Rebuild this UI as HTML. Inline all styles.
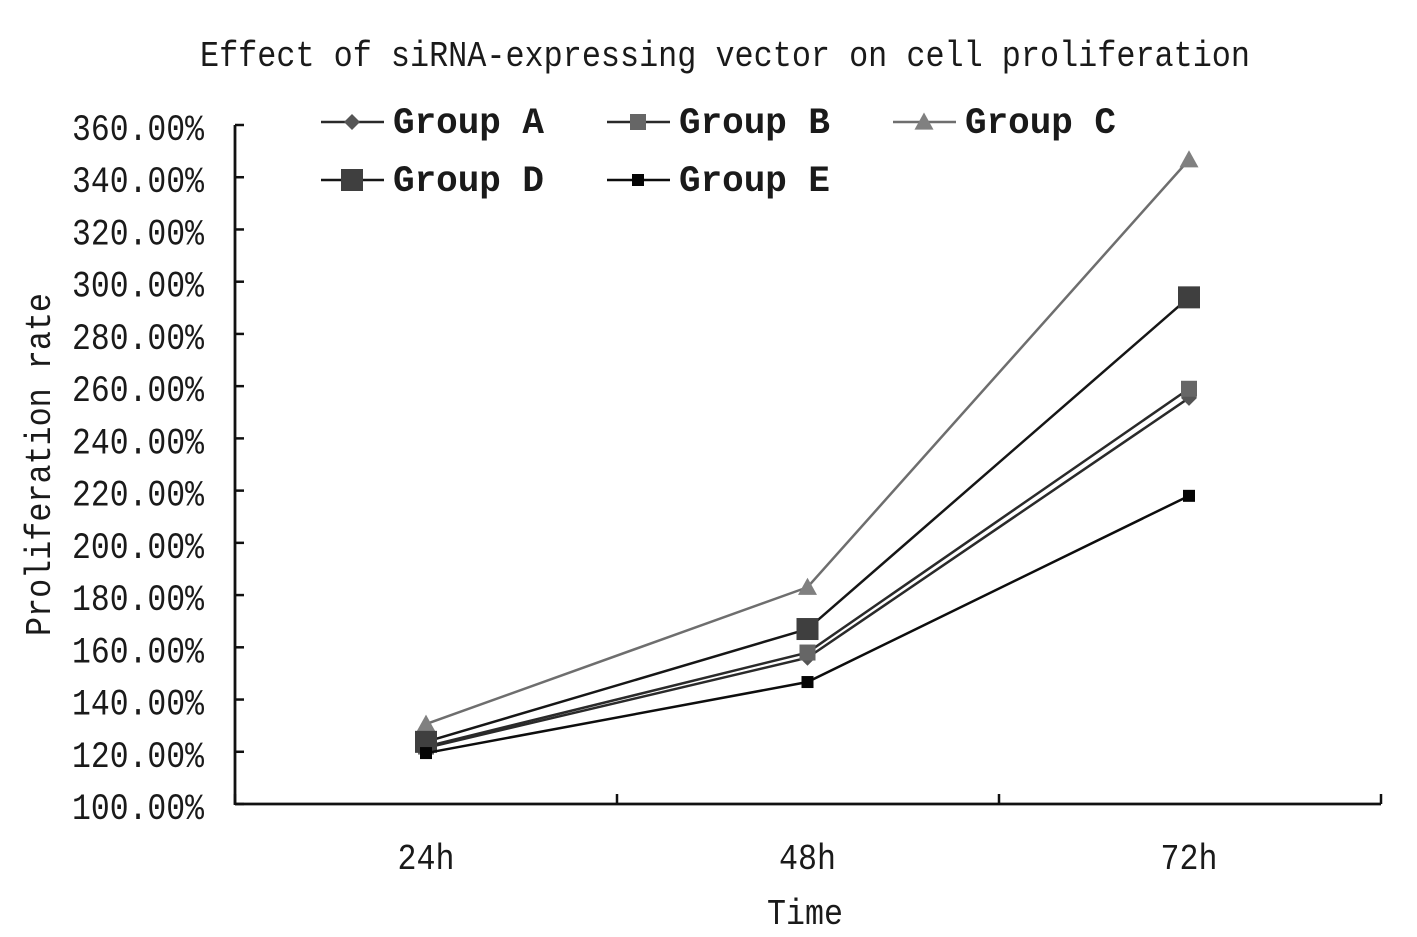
<!DOCTYPE html>
<html>
<head>
<meta charset="utf-8">
<title>Effect of siRNA-expressing vector on cell proliferation</title>
<style>
html,body{margin:0;padding:0;background:#fff;width:1417px;height:937px;overflow:hidden}
svg{display:block}
text{font-family:"Liberation Mono","DejaVu Sans Mono",monospace;fill:#1a1a1a}
</style>
</head>
<body>
<svg id="chart" xmlns="http://www.w3.org/2000/svg" width="1417" height="937" viewBox="0 0 1417 937">
<rect width="1417" height="937" fill="#fff"/>
<text x="200" y="66" font-size="36" textLength="1050" lengthAdjust="spacingAndGlyphs">Effect of siRNA-expressing vector on cell proliferation</text>
<text transform="translate(50,636) rotate(-90)" font-size="36" textLength="343" lengthAdjust="spacingAndGlyphs">Proliferation rate</text>
<text x="767" y="924" font-size="36" textLength="76" lengthAdjust="spacingAndGlyphs">Time</text>
<g id="axes"></g>
<g id="series"></g>
<g id="legend"></g>
</svg>
<script>
const categories = ['24h', '48h', '72h'];
const yTicks = [100, 120, 140, 160, 180, 200, 220, 240, 260, 280, 300, 320, 340, 360];
const groupNames = ['Group A', 'Group B', 'Group C', 'Group D', 'Group E'];
const groupA = [121.5, 156, 255.5];
const groupB = [122, 158, 259];
const groupC = [130.6, 183, 346.7];
const groupD = [123.8, 167, 294];
const groupE = [119.5, 146.7, 218];

const NS = 'http://www.w3.org/2000/svg';
const plotL = 235, plotR = 1381, plotT = 125, plotB = 804;
const yMin = 100, yMax = 360;
function yScale(v) { return plotB - (v - yMin) / (yMax - yMin) * (plotB - plotT); }
function xScale(i) { return 426 + i * 381.5; }
function make(parent, tag, attrs) {
  const el = document.createElementNS(NS, tag);
  for (const k in attrs) el.setAttribute(k, attrs[k]);
  parent.appendChild(el);
  return el;
}
function drawMarker(parent, kind, x, y, size, fill) {
  let el;
  if (kind === 'diamond') {
    el = make(parent, 'polygon', { points: [x, y - size, x + size, y, x, y + size, x - size, y].join(' '), fill: fill });
  } else if (kind === 'triangle') {
    el = make(parent, 'polygon', { points: [x, y - size, x + size, y + size * 0.8, x - size, y + size * 0.8].join(' '), fill: fill });
  } else {
    el = make(parent, 'rect', { x: x - size, y: y - size, width: size * 2, height: size * 2, fill: fill });
  }
  return el;
}

const axes = document.getElementById('axes');
const axisY = make(axes, 'line', { x1: plotL, y1: plotT, x2: plotL, y2: plotB + 1, stroke: '#111', 'stroke-width': 2.8 });


const axisX = make(axes, 'line', { x1: plotL, y1: plotB, x2: plotR, y2: plotB, stroke: '#111', 'stroke-width': 2.8 });



yTicks.forEach(function (t) {
  const y = yScale(t);
  const tick = make(axes, 'line', { x1: plotL, y1: y, x2: plotL + 9, y2: y, stroke: '#111', 'stroke-width': 2.5 });
  
  
  const label = make(axes, 'text', { x: 72, y: y + 15, 'font-size': 37, textLength: 132, lengthAdjust: 'spacingAndGlyphs' });
  label.textContent = t.toFixed(2) + '%';
  
  
});

for (let i = 0; i <= categories.length; i++) {
  const x = plotL + i * (plotR - plotL) / categories.length;
  const tick = make(axes, 'line', { x1: x, y1: plotB, x2: x, y2: plotB - 10, stroke: '#111', 'stroke-width': 2.5 });
  
  
}
categories.forEach(function (c, i) {
  const label = make(axes, 'text', { x: xScale(i) - 28.5, y: 869, 'font-size': 36, textLength: 57, lengthAdjust: 'spacingAndGlyphs' });
  label.textContent = c;
  
  
});

const seriesValues = [groupA, groupB, groupC, groupD, groupE];
const seriesLine = ['#2a2a2a', '#2a2a2a', '#6e6e6e', '#161616', '#0d0d0d'];
const seriesFill = ['#555555', '#666666', '#808080', '#3f3f3f', '#050505'];
const seriesKind = ['diamond', 'square', 'triangle', 'square', 'square'];
const seriesSize = [8, 8, 9.5, 11, 6];
const drawOrder = [0, 1, 2, 3, 4];
const layer = document.getElementById('series');
drawOrder.forEach(function (s) {
  const g = make(layer, 'g', {});
  
  
  const pts = seriesValues[s].map(function (v, i) { return xScale(i) + ',' + yScale(v); }).join(' ');
  const line = make(g, 'polyline', { points: pts, fill: 'none', stroke: seriesLine[s], 'stroke-width': 2.5 });
  
  
  seriesValues[s].forEach(function (v, i) {
    const m = drawMarker(g, seriesKind[s], xScale(i), yScale(v), seriesSize[s], seriesFill[s]);
    
    
  });
});

const legend = document.getElementById('legend');
const legendX = [321, 607, 893];
const legendY = [122, 180];
groupNames.forEach(function (name, s) {
  const col = s % 3, row = Math.floor(s / 3);
  const x = legendX[col], y = legendY[row];
  const g = make(legend, 'g', {});
  
  
  const line = make(g, 'line', { x1: x, y1: y, x2: x + 63, y2: y, stroke: seriesLine[s], 'stroke-width': 2.6 });
  
  
  const m = drawMarker(g, seriesKind[s], x + 31, y, seriesSize[s], seriesFill[s]);
  
  
  const label = make(g, 'text', { x: x + 72, y: y + 11, 'font-size': 37, 'font-weight': 'bold', textLength: 151, lengthAdjust: 'spacingAndGlyphs' });
  label.textContent = name;
  
  
});
</script>
</body>
</html>
